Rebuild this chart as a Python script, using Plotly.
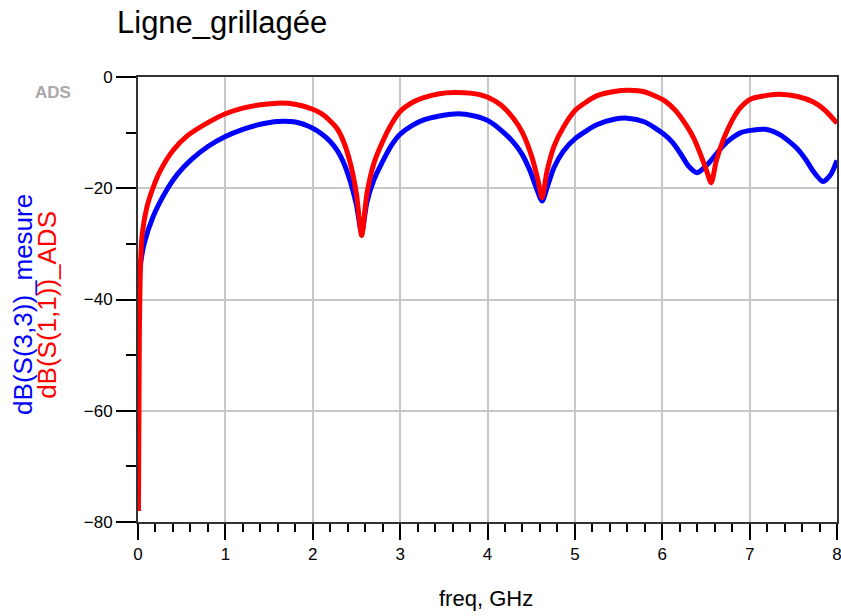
import plotly.graph_objects as go

# Frequency sweep (GHz) and return loss curves (dB)
freq_ads = [0.005, 0.015, 0.03, 0.05, 0.1, 0.17, 0.25, 0.4, 0.57, 0.8, 1.0, 1.2, 1.4, 1.6,
            1.8, 2.0, 2.1, 2.2, 2.28, 2.35, 2.43, 2.5, 2.56, 2.62, 2.7, 2.78, 2.9, 3.0,
            3.15, 3.27, 3.45, 3.62, 3.8, 3.92, 4.01, 4.15, 4.3, 4.4, 4.5, 4.57, 4.625,
            4.68, 4.76, 4.87, 5.01, 5.25, 5.45, 5.63, 5.8, 6.02, 6.15, 6.28, 6.36, 6.43,
            6.5, 6.56, 6.62, 6.7, 6.8, 6.89, 7.01, 7.2, 7.35, 7.55, 7.73, 7.85, 8.0]
s11_ads = [-78, -47, -33, -28, -23.5, -20, -17, -13.2, -10.5, -8.2, -6.6, -5.6, -5.0, -4.7,
           -4.9, -5.8, -6.6, -7.9, -9.3, -11.5, -15.5, -21, -28.5, -21, -15.5, -12.3, -8.5, -6.2,
           -4.5, -3.7, -3.0, -2.8, -2.9, -3.2, -3.7, -5.0, -7.5, -10, -14, -18, -21.7,
           -17, -12.5, -9.0, -5.9, -3.4, -2.6, -2.4, -2.7, -4.2, -6.0, -8.8, -11, -13.6,
           -16.5, -19, -15, -11.2, -7.8, -5.6, -4.0, -3.3, -3.1, -3.5, -4.5, -5.8, -8.3]

freq_mes = [0.005, 0.015, 0.03, 0.07, 0.17, 0.34, 0.45, 0.6, 0.8, 1.0, 1.2, 1.4, 1.6, 1.8,
            2.0, 2.1, 2.2, 2.28, 2.35, 2.43, 2.5, 2.56, 2.62, 2.7, 2.78, 2.9, 3.0, 3.15,
            3.27, 3.45, 3.67, 3.85, 3.92, 4.01, 4.15, 4.3, 4.4, 4.49, 4.56, 4.625, 4.69,
            4.76, 4.87, 5.01, 5.25, 5.45, 5.6, 5.8, 6.02, 6.12, 6.21, 6.3, 6.4, 6.5, 6.59,
            6.7, 6.78, 6.9, 7.01, 7.18, 7.35, 7.54, 7.65, 7.73, 7.84, 7.93, 8.0]
s33_mes = [-47, -36, -33.5, -30, -25.2, -20, -17.5, -15.0, -12.5, -10.7, -9.4, -8.5, -8.0, -8.1,
           -9.2, -10.2, -11.6, -13.2, -15.3, -18.8, -23, -28.0, -22.5, -18.5, -15.8, -12.3, -10.3, -8.6,
           -7.7, -7.0, -6.6, -7.0, -7.3, -7.9, -9.5, -11.8, -14, -17, -20, -22.3, -19.5,
           -16.3, -13.3, -11, -8.6, -7.6, -7.4, -8.1, -10.3, -11.8, -13.8, -16, -17.2, -16, -14.4,
           -12.3, -11.2, -10, -9.6, -9.4, -10.4, -12.8, -15, -17.0, -18.8, -17.5, -15]

x_ticks = [0, 1, 2, 3, 4, 5, 6, 7, 8]
y_ticks = [-80, -60, -40, -20, 0]

title_text = "Ligne_grillagée"
ytitle_mes = "dB(S(3,3))_mesure"
ytitle_ads = "dB(S(1,1))_ADS"
xtitle = "freq, GHz"

W, H = 841, 616
L, R, T, B = 137.5, 4, 76.7, 94.3
pw, ph = W - L - R, H - T - B


def px(x):
    return (x - L) / pw


def py(y):
    return (H - B - y) / ph


fig = go.Figure()
fig.add_trace(go.Scatter(x=freq_mes, y=s33_mes, mode="lines",
                         line=dict(color="#0000ff", width=5, shape="spline", smoothing=0.7),
                         showlegend=False))
fig.add_trace(go.Scatter(x=freq_ads, y=s11_ads, mode="lines",
                         line=dict(color="#ff0000", width=5, shape="spline", smoothing=0.7),
                         showlegend=False))

font = "Liberation Sans, Arial, sans-serif"
fig.update_layout(
    width=W, height=H,
    margin=dict(l=L, r=R, t=T, b=B, autoexpand=False),
    paper_bgcolor="white", plot_bgcolor="white",
    font=dict(family=font, color="black"),
    xaxis=dict(range=[0, 8], tickvals=x_ticks, ticks="outside", ticklen=16, tickwidth=2,
               tickcolor="black", showline=True, linewidth=2, linecolor="#333", mirror=True,
               showgrid=True, gridcolor="#c8c8c8", gridwidth=1.5, zeroline=False,
               automargin=False, ticklabeloverflow="allow",
               tickfont=dict(size=17, color="black"),
               minor=dict(dtick=0.2, ticks="outside", ticklen=8, tickwidth=2,
                          tickcolor="black", showgrid=False)),
    yaxis=dict(range=[-80, 0], tickvals=y_ticks, ticks="outside", ticklen=20, tickwidth=2,
               tickcolor="black", showline=True, linewidth=2, linecolor="#333", mirror=True,
               showgrid=True, gridcolor="#c8c8c8", gridwidth=1.5, zeroline=False,
               automargin=False, ticklabeloverflow="allow",
               tickfont=dict(size=17, color="black"),
               minor=dict(dtick=10, ticks="outside", ticklen=10, tickwidth=2,
                          tickcolor="black", showgrid=False)),
)

fig.add_annotation(text=title_text, xref="paper", yref="paper", x=px(114), y=py(22),
                   xanchor="left", yanchor="middle", showarrow=False,
                   font=dict(size=31, color="black"))
fig.add_annotation(text="ADS", xref="paper", yref="paper", x=px(52), y=py(92),
                   xanchor="center", yanchor="middle", showarrow=False,
                   font=dict(size=17, color="#a8a8a8", weight="bold"))
fig.add_annotation(text=ytitle_mes, xref="paper", yref="paper", x=px(23), y=py(304),
                   xanchor="center", yanchor="middle", textangle=-90, showarrow=False,
                   font=dict(size=26, color="#0000ff"))
fig.add_annotation(text=ytitle_ads, xref="paper", yref="paper", x=px(47), y=py(305),
                   xanchor="center", yanchor="middle", textangle=-90, showarrow=False,
                   font=dict(size=26, color="#ff0000"))
fig.add_annotation(text=xtitle, xref="paper", yref="paper", x=px(486), y=py(598),
                   xanchor="center", yanchor="middle", showarrow=False,
                   font=dict(size=22, color="black"))

fig.write_html("out.html")
